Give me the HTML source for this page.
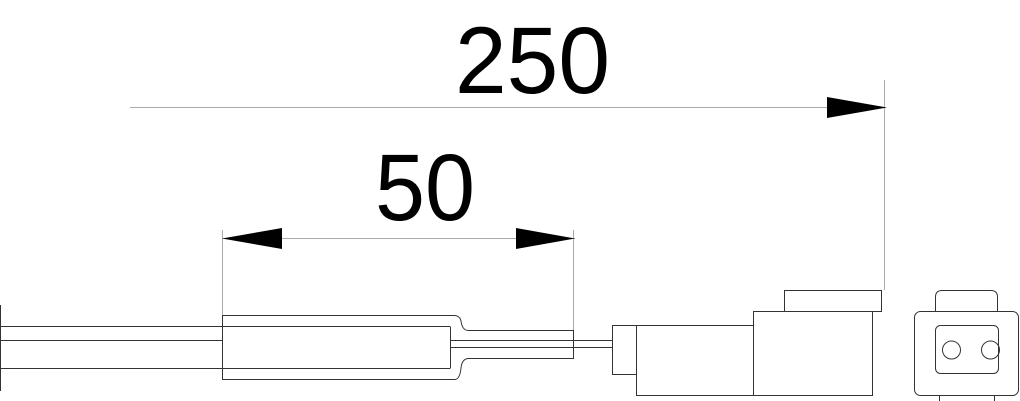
<!DOCTYPE html>
<html><head><meta charset="utf-8"><style>html,body{margin:0;padding:0;background:#fff}svg{display:block}</style></head>
<body>
<svg width="1020" height="401" viewBox="0 0 1020 401" xmlns="http://www.w3.org/2000/svg">
<g font-family="Liberation Sans, sans-serif" fill="#000">
<text x="455" y="93" font-size="95" textLength="155" lengthAdjust="spacingAndGlyphs">250</text>
<text x="375" y="220" font-size="95" textLength="100" lengthAdjust="spacingAndGlyphs">50</text>
</g>
<g stroke="#aaa" stroke-width="1" fill="none">
<line x1="130" y1="107.5" x2="885" y2="107.5"/>
<line x1="884.5" y1="80" x2="884.5" y2="290"/>
<line x1="222" y1="238.5" x2="575" y2="238.5"/>
<line x1="222.5" y1="230" x2="222.5" y2="316"/>
<line x1="573.5" y1="230" x2="573.5" y2="330"/>
</g>
<polygon points="887,107.5 827,97 827,118" fill="#000"/>
<polygon points="222,238.5 282,228 282,249" fill="#000"/>
<polygon points="575,238.5 516,228 516,249" fill="#000"/>
<g stroke="#333" stroke-width="1" fill="none">
<line x1="0.5" y1="305" x2="0.5" y2="391"/>
<line x1="0" y1="326.5" x2="450" y2="326.5"/>
<line x1="0" y1="340.5" x2="222" y2="340.5"/>
<line x1="0" y1="368.5" x2="450" y2="368.5"/>
<line x1="450.5" y1="326.5" x2="450.5" y2="368.5"/>
<path d="M222.5 315.5 H455 Q460 316 461 321 Q462 330 468 330.5 H573.5 V358.5 H468 Q462 359 461 368 Q460 379 455 379.5 H222.5 Z"/>
<line x1="450" y1="340.5" x2="612" y2="340.5"/>
<line x1="450" y1="347.5" x2="612" y2="347.5"/>
<rect x="612.5" y="325.5" width="24" height="49"/>
<rect x="636.5" y="325.5" width="117" height="70"/>
<rect x="753.5" y="311.5" width="119" height="84"/>
<rect x="784.5" y="290.5" width="97" height="21"/>
<path d="M935.5 311.5 V297 Q935.5 290.5 942 290.5 H991 Q997.5 290.5 997.5 297 V311.5"/>
<rect x="914.5" y="311.5" width="104" height="84" rx="6"/>
<rect x="935.5" y="325.5" width="63" height="48" rx="5"/>
<circle cx="951.5" cy="350" r="9"/>
<circle cx="990.5" cy="350" r="9"/>
<path d="M939.5 396 V401 M994.5 396 V401"/>
</g>
</svg>
</body></html>
